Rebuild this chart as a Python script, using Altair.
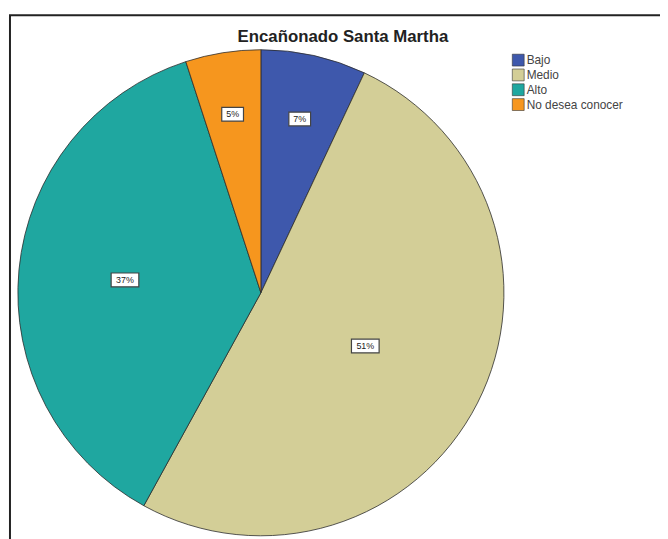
import altair as alt
import pandas as pd

categories = ["Bajo", "Medio", "Alto", "No desea conocer"]
values = [7, 51, 37, 5]
labels = ["7%", "51%", "37%", "5%"]
colors = ["#3e58ac", "#d3ce97", "#1fa7a0", "#f6961e"]
title_text = "Encañonado Santa Martha"

df = pd.DataFrame({"cat": categories, "value": values, "label": labels,
                   "idx": list(range(len(categories)))})

CX, CY, R = 256, 285, 246

base = alt.Chart(df)

pie = base.mark_arc(stroke="#2b2b2b", strokeWidth=0.8, outerRadius=R).encode(
    theta=alt.Theta("value:Q", stack=True),
    order=alt.Order("idx:Q"),
    color=alt.Color("cat:N", sort=categories,
                    scale=alt.Scale(domain=categories, range=colors),
                    legend=alt.Legend(title=None, orient="none", legendX=510, legendY=43,
                                      symbolType="square", symbolSize=144,
                                      symbolStrokeColor="#333", symbolStrokeWidth=0.6,
                                      labelFontSize=12, labelColor="#444", labelFont="Liberation Sans",
                                      rowPadding=0, labelOffset=2)),
    x=alt.value(CX), y=alt.value(CY),
)

lab_base = base.transform_window(
    cum="sum(value)", sort=[alt.SortField("idx")], frame=[None, 0]
).transform_joinaggregate(total="sum(value)").transform_calculate(
    ang="(datum.cum - datum.value/2)/datum.total*2*PI",
    rr="190 - 1.4*datum.value/datum.total*100",
    lx=f"{CX} + datum.rr*sin(datum.ang)",
    ly=f"{CY} - datum.rr*cos(datum.ang)",
    hw="3*length(datum.label)+5",
    bx1="datum.lx - datum.hw", bx2="datum.lx + datum.hw",
    by1="datum.ly - 7", by2="datum.ly + 7",
)

boxes = lab_base.mark_rect(fill="white", stroke="#444", strokeWidth=1.2).encode(
    x=alt.X("bx1:Q", scale=None), x2="bx2:Q",
    y=alt.Y("by1:Q", scale=None), y2="by2:Q",
)

texts = lab_base.mark_text(fontSize=9, font="Liberation Sans", color="#222", baseline="middle").encode(
    x=alt.X("lx:Q", scale=None), y=alt.Y("ly:Q", scale=None), text="label:N",
)

one = alt.Data(values=[{}])
title = alt.Chart(one).mark_text(text=title_text, fontSize=17, fontWeight="bold",
                                 font="Liberation Sans", color="#222", baseline="middle").encode(
    x=alt.value(339), y=alt.value(26))

frame = alt.Chart(one).mark_rect(fillOpacity=0, stroke="#222", strokeWidth=2).encode(
    x=alt.value(2), x2=alt.value(720), y=alt.value(4), y2=alt.value(620))

chart = alt.layer(frame, pie, boxes, texts, title).properties(
    width=660, height=531, autosize="none", padding=0
).configure_view(strokeWidth=0)

chart.save("out.html", embed_options={"renderer": "svg", "actions": False})
